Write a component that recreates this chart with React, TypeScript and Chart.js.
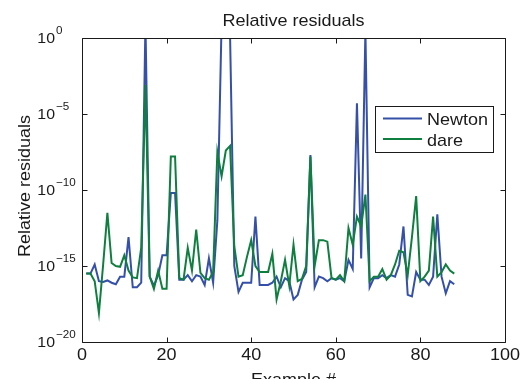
import React, { useEffect, useRef } from "react";
import { Chart, registerables } from "chart.js";

Chart.register(...registerables);

// ---- data (stored as log10 of the relative residual) ----
const exampleNumbers = Array.from({ length: 88 }, (_, i) => i + 1);

const newtonLog10 = [
  -15.5, -15.5, -14.9, -16.0, -16.05, -15.95, -16.1, -16.2, -15.7, -15.7,
  -13.1, -16.4, -16.4, -16.1, 1.0, -15.7, -16.3, -15.6, -14.3, -14.3,
  -10.2, -10.2, -15.9, -15.9, -15.6, -16.0, -15.6, -15.7, -16.25, -14.5,
  -16.1, -12.0, 1.0, 2.0, 0.2, -15.0, -16.7, -16.1, -16.1, -16.1,
  -11.75, -16.25, -16.25, -16.25, -16.1, -15.7, -16.4, -15.8, -16.0, -17.2,
  -16.9, -15.9, -15.4, -7.7, -16.4, -15.7, -15.8, -16.0, -15.8, -15.9,
  -15.8, -16.0, -14.6, -15.2, -4.3, -14.5, 0.5, -16.4, -15.8, -15.8,
  -15.6, -15.8, -15.6, -15.7, -14.9, -12.4, -16.9, -17.0, -15.4, -15.9,
  -15.9, -16.25, -15.7, -11.6, -15.7, -16.8, -16.0, -16.2,
];

const dareLog10 = [
  -15.5, -15.5, -16.0, -18.1, -14.9, -11.5, -14.8, -15.0, -15.05, -14.3,
  -15.3, -15.75, -15.8, -13.8, -3.1, -15.7, -16.5, -15.3, -16.5, -16.5,
  -7.8, -7.8, -15.8, -15.9, -13.8, -15.3, -12.6, -15.45, -15.8, -15.9,
  -15.4, -7.5, -9.1, -7.4, -7.1, -13.7, -15.7, -15.6, -14.4, -13.3,
  -15.0, -15.4, -15.4, -15.4, -14.2, -17.2, -16.0, -14.6, -16.3, -13.6,
  -16.0, -15.85, -15.0, -7.8, -15.0, -13.3, -13.3, -13.4, -15.8, -15.9,
  -15.6, -16.0, -12.5, -13.6, -11.75, -12.4, -10.3, -16.0, -15.7, -15.7,
  -15.2, -15.9, -15.6, -14.9, -14.0, -14.1, -15.6, -13.1, -10.4, -16.0,
  -15.7, -15.3, -11.75, -15.7, -15.4, -14.9, -15.3, -15.5,
];

const seriesNames = ["Newton", "dare"];
const xTickValues = [0, 20, 40, 60, 80, 100];
const yTickExponents = [0, -5, -10, -15, -20];
const chartTitle = "Relative residuals";
const xAxisTitle = "Example #";
const yAxisTitle = "Relative residuals";

// ---- styles ----
const BLUE = "#3550a8";
const GREEN = "#0f7f3f";
const INK = "#1a1a1a";
const FONT = '"Liberation Sans", Arial, Helvetica, sans-serif';
const SX = 1.06;

function stretchText(
  ctx: CanvasRenderingContext2D,
  text: string,
  x: number,
  y: number,
  size: number,
  align: CanvasTextAlign,
  rotate = 0
) {
  ctx.save();
  ctx.font = `${size}px ${FONT}`;
  ctx.fillStyle = INK;
  ctx.translate(x, y);
  if (rotate) ctx.rotate(rotate);
  ctx.scale(SX, 1);
  ctx.textAlign = align;
  ctx.textBaseline = "alphabetic";
  ctx.fillText(text, 0, 0);
  ctx.restore();
}

const matlabAxes = {
  id: "matlabAxes",
  afterDatasetsDraw(chart: any) {
    const { ctx, chartArea: a, scales } = chart;
    const xs = scales.x;
    const ys = scales.y;
    const L = Math.floor(a.left) + 0.5;
    const R = Math.floor(a.right) + 0.5;
    const T = Math.floor(a.top) + 0.5;
    const B = Math.floor(a.bottom) + 0.5;
    const tick = 5;

    ctx.save();
    ctx.strokeStyle = INK;
    ctx.lineWidth = 1;
    ctx.beginPath();
    ctx.rect(L, T, R - L, B - T);
    // x ticks (inward, top and bottom)
    xTickValues.forEach((v) => {
      const px = Math.round(xs.getPixelForValue(v)) + 0.5;
      ctx.moveTo(px, B);
      ctx.lineTo(px, B - tick);
      ctx.moveTo(px, T);
      ctx.lineTo(px, T + tick);
    });
    // y ticks (inward, left and right)
    yTickExponents.forEach((e) => {
      const py = Math.round(ys.getPixelForValue(Math.pow(10, e))) + 0.5;
      ctx.moveTo(L, py);
      ctx.lineTo(L + tick, py);
      ctx.moveTo(R, py);
      ctx.lineTo(R - tick, py);
    });
    ctx.stroke();
    ctx.restore();

    // x tick labels
    xTickValues.forEach((v) => {
      stretchText(ctx, String(v), xs.getPixelForValue(v), 359.5, 17, "center");
    });
    // y tick labels 10^e
    yTickExponents.forEach((e) => {
      const py = ys.getPixelForValue(Math.pow(10, e));
      stretchText(ctx, "10", 55, py + 5, 15, "right");
      const sup = e === 0 ? "0" : "\u2212" + Math.abs(e);
      stretchText(ctx, sup, 56, py - 4, 11, "left");
    });

    const cx = (a.left + a.right) / 2;
    const cy = (a.top + a.bottom) / 2;
    stretchText(ctx, chartTitle, cx, 26, 17, "center");
    stretchText(ctx, xAxisTitle, cx, 385, 17, "center");
    stretchText(ctx, yAxisTitle, 30, cy - 4, 17, "center", -Math.PI / 2);

    // legend box
    const lx = 375.5, ly = 106.5, lw = 118, lh = 46;
    ctx.save();
    ctx.fillStyle = "#ffffff";
    ctx.fillRect(lx, ly, lw, lh);
    ctx.strokeStyle = INK;
    ctx.lineWidth = 1;
    ctx.strokeRect(lx, ly, lw, lh);
    const rows = [118.5, 139];
    chart.data.datasets.forEach((ds: any, i: number) => {
      ctx.strokeStyle = ds.borderColor;
      ctx.lineWidth = 2;
      ctx.beginPath();
      ctx.moveTo(383, rows[i]);
      ctx.lineTo(422, rows[i]);
      ctx.stroke();
    });
    ctx.restore();
    chart.data.datasets.forEach((ds: any, i: number) => {
      stretchText(ctx, ds.label, 427, rows[i] + 6.5, 17, "left");
    });
  },
};

export default function App() {
  const canvasRef = useRef<HTMLCanvasElement | null>(null);

  useEffect(() => {
    const canvas = canvasRef.current;
    if (!canvas) return;
    const chart = new Chart(canvas, {
      type: "line",
      data: {
        datasets: [
          {
            label: seriesNames[0],
            data: exampleNumbers.map((x, i) => ({ x, y: Math.pow(10, newtonLog10[i]) })),
            borderColor: BLUE,
            backgroundColor: BLUE,
            borderWidth: 2,
            pointRadius: 0,
            tension: 0,
            fill: false,
            clip: 0,
            order: 1,
          },
          {
            label: seriesNames[1],
            data: exampleNumbers.map((x, i) => ({ x, y: Math.pow(10, dareLog10[i]) })),
            borderColor: GREEN,
            backgroundColor: GREEN,
            borderWidth: 2,
            pointRadius: 0,
            tension: 0,
            fill: false,
            clip: 0,
            order: 0,
          },
        ],
      },
      options: {
        responsive: false,
        animation: false,
        devicePixelRatio: 1,
        layout: { padding: { top: 38, right: 16, left: 0, bottom: 0 } },
        plugins: {
          legend: { display: false },
          title: { display: false },
          tooltip: { enabled: false },
        },
        events: [],
        scales: {
          x: {
            type: "linear",
            min: 0,
            max: 100,
            grid: { display: false },
            border: { display: false },
            ticks: { display: false },
            afterFit: (s: any) => {
              s.height = 37;
            },
          },
          y: {
            type: "logarithmic",
            min: 1e-20,
            max: 1,
            grid: { display: false },
            border: { display: false },
            ticks: { display: false },
            afterFit: (s: any) => {
              s.width = 82;
            },
          },
        },
      },
      plugins: [matlabAxes],
    });
    return () => chart.destroy();
  }, []);

  return (
    <div style={{ position: "fixed", left: 0, top: 0, width: 521, height: 379, background: "#fff" }}>
      <canvas ref={canvasRef} width={521} height={379} style={{ display: "block" }} />
    </div>
  );
}
